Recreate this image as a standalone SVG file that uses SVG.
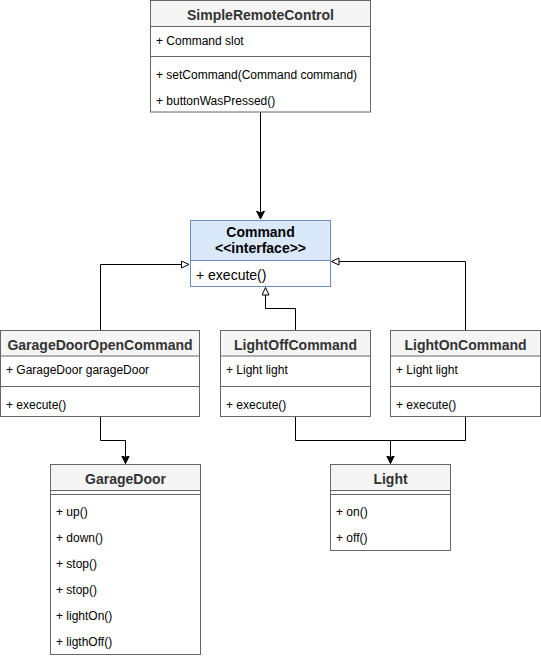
<svg xmlns="http://www.w3.org/2000/svg" width="541" height="658" viewBox="0 0 541 658">
<style>
.box{fill:#ffffff;stroke:#666666;stroke-width:1}
.hdr{fill:#f5f5f5;stroke:#666666;stroke-width:1}
.ln{stroke:#666666;stroke-width:1;fill:none}
.ttl{font-family:"Liberation Sans",Arial,sans-serif;font-size:14px;font-weight:bold;fill:#333333;text-anchor:middle}
.itm{font-family:"Liberation Sans",Arial,sans-serif;font-size:12px;fill:#000000}
.edge{stroke:#000000;stroke-width:1;fill:none}
</style>
<defs>
<marker id="arr" markerWidth="10" markerHeight="10" refX="8" refY="4" orient="auto" markerUnits="userSpaceOnUse">
<path d="M0,0 L8,4 L0,8 L2,4 Z" fill="#000000" stroke="#000000" stroke-width="1"/>
</marker>
<marker id="tri" markerWidth="12" markerHeight="12" refX="8" refY="4" orient="auto" markerUnits="userSpaceOnUse">
<path d="M0.5,0.5 L8,4 L0.5,7.5 Z" fill="#ffffff" stroke="#000000" stroke-width="1"/>
</marker>
</defs>

<g id="edges">
<path class="edge" d="M260.5,112 L260.5,219" marker-end="url(#arr)"/>
<path class="edge" d="M100.5,330 L100.5,264.5 L189,264.5" marker-end="url(#tri)"/>
<path class="edge" d="M295.5,330 L295.5,308.5 L265.5,308.5 L265.5,287.5" marker-end="url(#tri)"/>
<path class="edge" d="M465.5,330 L465.5,261.5 L331.5,261.5" marker-end="url(#tri)"/>
<path class="edge" d="M100.5,416 L100.5,440.5 L125.5,440.5 L125.5,463.5" marker-end="url(#arr)"/>
<path class="edge" d="M295.5,416 L295.5,440.5 L390.5,440.5 L390.5,463.5" marker-end="url(#arr)"/>
<path class="edge" d="M465.5,416 L465.5,440.5 L390.5,440.5"/>
</g>

<g id="SimpleRemoteControl">
<rect class="box" x="150.5" y="0.5" width="220" height="111.5"/>
<rect class="hdr" x="150.5" y="0.5" width="220" height="26"/>
<text class="ttl" x="260.5" y="20">SimpleRemoteControl</text>
<text class="itm" x="156" y="45">+ Command slot</text>
<line class="ln" x1="150.5" y1="56.5" x2="370.5" y2="56.5"/>
<text class="itm" x="156" y="79">+ setCommand(Command command)</text>
<text class="itm" x="156" y="105">+ buttonWasPressed()</text>
</g>

<g id="Command">
<rect x="190.5" y="220.5" width="140" height="66" fill="#ffffff" stroke="#6c8ebf"/>
<rect x="190.5" y="220.5" width="140" height="40" fill="#dae8fc" stroke="#6c8ebf"/>
<text class="ttl" x="260.5" y="237" style="fill:#000000">Command</text>
<text class="ttl" x="260.5" y="253" style="fill:#000000">&lt;&lt;interface&gt;&gt;</text>
<text class="itm" x="196" y="280" style="font-size:14px">+ execute()</text>
</g>

<g id="GarageDoorOpenCommand">
<rect class="box" x="0.5" y="330.5" width="199" height="86"/>
<rect class="hdr" x="0.5" y="330.5" width="199" height="25.5"/>
<text class="ttl" x="100" y="350">GarageDoorOpenCommand</text>
<text class="itm" x="6" y="374">+ GarageDoor garageDoor</text>
<line class="ln" x1="0.5" y1="386.5" x2="199.5" y2="386.5"/>
<text class="itm" x="6" y="409">+ execute()</text>
</g>

<g id="LightOffCommand">
<rect class="box" x="220.5" y="330.5" width="150" height="86"/>
<rect class="hdr" x="220.5" y="330.5" width="150" height="25.5"/>
<text class="ttl" x="295.5" y="350">LightOffCommand</text>
<text class="itm" x="226" y="374">+ Light light</text>
<line class="ln" x1="220.5" y1="386.5" x2="370.5" y2="386.5"/>
<text class="itm" x="226" y="409">+ execute()</text>
</g>

<g id="LightOnCommand">
<rect class="box" x="390.5" y="330.5" width="150" height="86"/>
<rect class="hdr" x="390.5" y="330.5" width="150" height="25.5"/>
<text class="ttl" x="465.5" y="350">LightOnCommand</text>
<text class="itm" x="396" y="374">+ Light light</text>
<line class="ln" x1="390.5" y1="386.5" x2="540.5" y2="386.5"/>
<text class="itm" x="396" y="409">+ execute()</text>
</g>

<g id="GarageDoor">
<rect class="box" x="50.5" y="464.5" width="150" height="190"/>
<rect class="hdr" x="50.5" y="464.5" width="150" height="26"/>
<text class="ttl" x="125.5" y="484">GarageDoor</text>
<line class="ln" x1="50.5" y1="494.5" x2="200.5" y2="494.5"/>
<text class="itm" x="56" y="516">+ up()</text>
<text class="itm" x="56" y="542">+ down()</text>
<text class="itm" x="56" y="568">+ stop()</text>
<text class="itm" x="56" y="594">+ stop()</text>
<text class="itm" x="56" y="620">+ lightOn()</text>
<text class="itm" x="56" y="646">+ ligthOff()</text>
</g>

<g id="Light">
<rect class="box" x="330.5" y="464.5" width="120" height="86"/>
<rect class="hdr" x="330.5" y="464.5" width="120" height="26"/>
<text class="ttl" x="390.5" y="484">Light</text>
<line class="ln" x1="330.5" y1="494.5" x2="450.5" y2="494.5"/>
<text class="itm" x="336" y="516">+ on()</text>
<text class="itm" x="336" y="542">+ off()</text>
</g>
</svg>
